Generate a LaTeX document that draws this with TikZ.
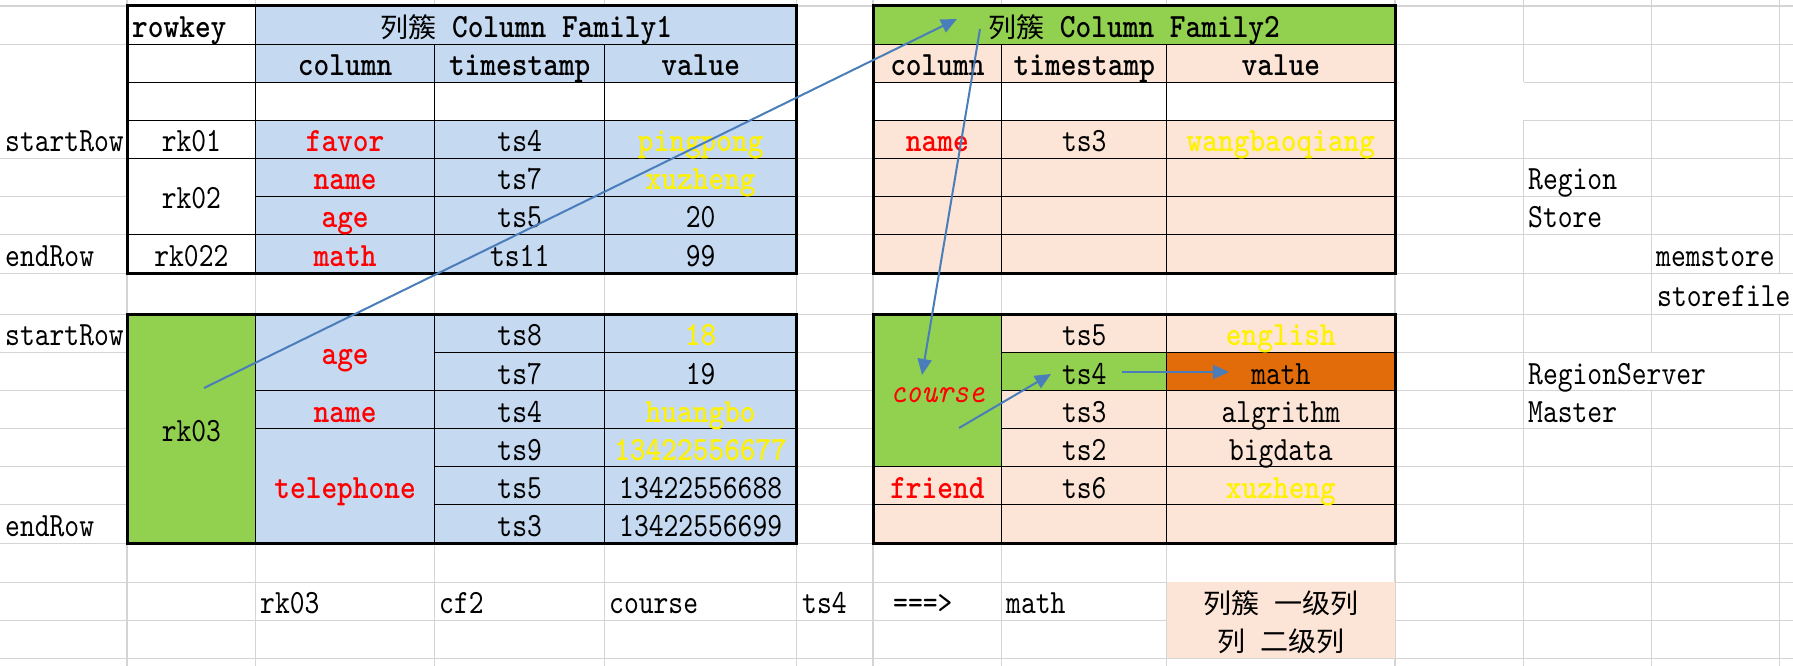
\documentclass[tikz,border=0pt]{standalone}
\usepackage{fontspec}
\setmainfont{lmmono10-regular.otf}[UprightFeatures={FakeStretch=0.83}, BoldFont=lmmonolt10-bold.otf, BoldFeatures={FakeStretch=0.88}, ItalicFont=lmmono10-italic.otf, ItalicFeatures={FakeStretch=0.88}]
\newfontfamily\cjkf{Noto Sans CJK SC}[FakeStretch=1.04]
\usetikzlibrary{arrows.meta}
\definecolor{lblue}{HTML}{C5D9F1}
\definecolor{lgreen}{HTML}{92D050}
\definecolor{peach}{HTML}{FCE4D6}
\definecolor{orng}{HTML}{E26B0A}
\definecolor{arrowblue}{HTML}{4A7EBB}
\definecolor{gridgray}{HTML}{D4D4D4}
\newcommand\mainsz{\fontsize{34}{34}\selectfont}
\newcommand\cjksz{\fontsize{27}{27}\selectfont}
\begin{document}
\begin{tikzpicture}[x=1pt,y=-1pt,
  txt/.style={inner sep=0pt, anchor=base, font=\mainsz},
  ltxt/.style={txt, anchor=base west},
  hd/.style={txt, font=\mainsz\bfseries},
  rd/.style={txt, font=\mainsz\bfseries, text=red},
  yl/.style={txt, font=\mainsz\bfseries, text=yellow},
  cjktxt/.style={txt, font=\cjkf\cjksz},
  gridline/.style={draw=gridgray, line width=1.2pt},
  thinline/.style={draw=black, line width=1.3pt},
  thickline/.style={draw=black, line width=3pt},
  arr/.style={draw=arrowblue, line width=2pt, -{Triangle[length=16pt,width=14pt]}}]
\useasboundingbox (0,0) rectangle (1793,666);
\fill[white] (0,0) rectangle (1793,666);
% ---------- sheet grid ----------
\foreach \yy in {6,44.3,158.3,196.3,234.5,273.5,314.2,352.5,390.5,428.5,466.4,504.5,543.7,582.3,620.3,658.3}
  \draw[gridline] (0,\yy) -- (1793,\yy);
\foreach \yy in {82.3,120.3}
  \draw[gridline] (1523.8,\yy) -- (1793,\yy);
\foreach \xx in {127,255.7,434.5,604.8,796.5,873,1001.8,1166.8,1395}
  \draw[gridline] (\xx,0) -- (\xx,666);
\draw[gridline] (1523.8,0) -- (1523.8,82.3) (1523.8,120.3) -- (1523.8,666);
\draw[gridline] (1651.5,0) -- (1651.5,352.5) (1651.5,390.5) -- (1651.5,666);
\draw[gridline] (1779.3,0) -- (1779.3,273.5) (1779.3,314.2) -- (1779.3,666);
\fill[peach] (1166.8,582.3) rectangle (1395,658.3);
% ---------- top table 1 ----------
\fill[white] (127,6) rectangle (796.5,273.5);
\fill[lblue] (255.7,6) rectangle (796.5,82.3);
\fill[lblue] (255.7,120.3) rectangle (796.5,273.5);
\draw[thinline] (127,44.3) -- (796.5,44.3) (127,82.3) -- (796.5,82.3) (127,120.3) -- (796.5,120.3)
  (127,158.3) -- (796.5,158.3) (255.7,196.3) -- (796.5,196.3) (127,234.5) -- (796.5,234.5)
  (255.7,6) -- (255.7,273.5) (434.5,44.3) -- (434.5,273.5) (604.8,44.3) -- (604.8,273.5);
\draw[thickline] (127,6) rectangle (796.5,273.5);
% ---------- top table 2 ----------
\fill[peach] (873,6) rectangle (1395,273.5);
\fill[lgreen] (873,6) rectangle (1395,44.3);
\fill[white] (873,82.3) rectangle (1395,120.3);
\draw[thinline] (873,44.3) -- (1395,44.3) (873,82.3) -- (1395,82.3) (873,120.3) -- (1395,120.3)
  (873,158.3) -- (1395,158.3) (873,196.3) -- (1395,196.3) (873,234.5) -- (1395,234.5)
  (1001.8,44.3) -- (1001.8,273.5) (1166.8,44.3) -- (1166.8,273.5);
\draw[thickline] (873,6) rectangle (1395,273.5);
% ---------- lower table 1 ----------
\fill[lblue] (127,314.2) rectangle (796.5,543.7);
\fill[lgreen] (127,314.2) rectangle (255.7,543.7);
\draw[thinline] (434.5,352.5) -- (796.5,352.5) (255.7,390.5) -- (796.5,390.5) (255.7,428.5) -- (796.5,428.5)
  (434.5,466.4) -- (796.5,466.4) (434.5,504.5) -- (796.5,504.5)
  (255.7,314.2) -- (255.7,543.7) (434.5,314.2) -- (434.5,543.7) (604.8,314.2) -- (604.8,543.7);
\draw[thickline] (127,314.2) rectangle (796.5,543.7);
% ---------- lower table 2 ----------
\fill[peach] (873,314.2) rectangle (1395,543.7);
\fill[lgreen] (873,314.2) rectangle (1001.8,466.4);
\fill[lgreen] (1001.8,352.5) rectangle (1166.8,390.5);
\fill[orng] (1166.8,352.5) rectangle (1395,390.5);
\draw[thinline] (1001.8,352.5) -- (1395,352.5) (1001.8,390.5) -- (1395,390.5) (1001.8,428.5) -- (1395,428.5)
  (873,466.4) -- (1395,466.4) (873,504.5) -- (1395,504.5)
  (1001.8,314.2) -- (1001.8,543.7) (1166.8,314.2) -- (1166.8,543.7);
\draw[thickline] (873,314.2) rectangle (1395,543.7);
% ---------- texts: top table 1 ----------
\node[ltxt, font=\mainsz\bfseries] (rowkey) at (132,37.7) {rowkey};
\node[hd] (cf1) at (526.1,37.7) {{\cjkf\mdseries\cjksz 列簇} Column Family1};
\node[hd] (c1col) at (345.1,75.8) {column};
\node[hd] (c1ts) at (519.7,75.8) {timestamp};
\node[hd] (c1val) at (700.7,75.8) {value};
\node[txt] (rk01) at (191.4,151.8) {rk01};
\node[rd] (favor) at (345.1,151.8) {favor};
\node[txt] (tsA4) at (519.7,151.8) {ts4};
\node[yl] (pingpong) at (700.7,151.8) {pingpong};
\node[txt] (rk02) at (191.4,208.9) {rk02};
\node[rd] (nameA) at (345.1,189.8) {name};
\node[txt] (tsA7) at (519.7,189.8) {ts7};
\node[yl] (xuzhengA) at (700.7,189.8) {xuzheng};
\node[rd] (ageA) at (345.1,227.9) {age};
\node[txt] (tsA5) at (519.7,227.9) {ts5};
\node[txt] (vA20) at (700.7,227.9) {20};
\node[txt] (rk022) at (191.4,266.5) {rk022};
\node[rd] (mathA) at (345.1,266.5) {math};
\node[txt] (tsA11) at (519.7,266.5) {ts11};
\node[txt] (vA99) at (700.7,266.5) {99};
% ---------- texts: top table 2 ----------
\node[hd] (cf2) at (1134,37.7) {{\cjkf\mdseries\cjksz 列簇} Column Family2};
\node[hd] (c2col) at (937.4,75.8) {column};
\node[hd] (c2ts) at (1084.3,75.8) {timestamp};
\node[hd] (c2val) at (1280.9,75.8) {value};
\node[rd] (nameB) at (937.4,151.8) {name};
\node[txt] (tsB3) at (1084.3,151.8) {ts3};
\node[yl] (wbq) at (1280.9,151.8) {wangbaoqiang};
% ---------- texts: lower table 1 ----------
\node[txt] (rk03) at (191.4,441.5) {rk03};
\node[rd] (ageC) at (345.1,364.9) {age};
\node[rd] (nameC) at (345.1,422) {name};
\node[rd] (tel) at (345.1,498.6) {telephone};
\node[txt] (tsC8) at (519.7,345.9) {ts8};
\node[txt] (tsC7) at (519.7,384) {ts7};
\node[txt] (tsC4) at (519.7,422) {ts4};
\node[txt] (tsC9) at (519.7,460) {ts9};
\node[txt] (tsC5) at (519.7,498) {ts5};
\node[txt] (tsC3) at (519.7,536.6) {ts3};
\node[yl] (vC18) at (700.7,345.9) {18};
\node[txt] (vC19) at (700.7,384) {19};
\node[yl] (huangbo) at (700.7,422) {huangbo};
\node[yl] (tel77) at (700.7,460) {13422556677};
\node[txt] (tel88) at (700.7,498) {13422556688};
\node[txt] (tel99) at (700.7,536.6) {13422556699};
% ---------- texts: lower table 2 ----------
\node[txt, font=\mainsz\itshape, text=red] (courseD) at (937.4,402.8) {course};
\node[rd] (friend) at (937.4,498) {friend};
\node[txt] (tsD5) at (1084.3,345.9) {ts5};
\node[txt] (tsD4) at (1084.3,384) {ts4};
\node[txt] (tsD3) at (1084.3,422) {ts3};
\node[txt] (tsD2) at (1084.3,460) {ts2};
\node[txt] (tsD6) at (1084.3,498) {ts6};
\node[yl] (english) at (1280.9,345.9) {english};
\node[txt] (mathD) at (1280.9,384) {math};
\node[txt] (algr) at (1280.9,422) {algrithm};
\node[txt] (bigdata) at (1280.9,460) {bigdata};
\node[yl] (xuzhengD) at (1280.9,498) {xuzheng};
% ---------- side labels ----------
\node[ltxt] (sr1) at (5,151.8) {startRow};
\node[ltxt] (er1) at (5,266.5) {endRow};
\node[ltxt] (sr2) at (5,345.9) {startRow};
\node[ltxt] (er2) at (5,536.6) {endRow};
\node[ltxt] (region) at (1528,189.8) {Region};
\node[ltxt] (store) at (1528,227.9) {Store};
\node[ltxt] (memstore) at (1656,266.5) {memstore};
\node[ltxt] (storefile) at (1657,306.4) {storefile};
\node[ltxt] (rserver) at (1528,384) {RegionServer};
\node[ltxt] (master) at (1528,422) {Master};
% ---------- bottom row ----------
\node[ltxt] (brk) at (260,613.8) {rk03};
\node[ltxt] (bcf) at (439,613.8) {cf2};
\node[ltxt] (bcourse) at (609,613.8) {course};
\node[ltxt] (bts) at (802,613.8) {ts4};
\node[ltxt] (barrow) at (893,613.8) {===>};
\node[ltxt] (bmath) at (1006,613.8) {math};
\node[cjktxt] (lvl1) at (1280.9,613.8) {列簇\hspace{15pt}一级列};
\node[cjktxt] (lvl2) at (1280.9,651.8) {列\hspace{15pt}二级列};
% ---------- arrows ----------
\coordinate (a1s) at (204,388);   \coordinate (a1e) at (957,19);
\coordinate (a2s) at (980,29);    \coordinate (a2e) at (922,375);
\coordinate (a3s) at (959,428);   \coordinate (a3e) at (1051,374);
\coordinate (a4s) at (1122,372);  \coordinate (a4e) at (1229,372);
\draw[arr] (a1s) -- (a1e);
\draw[arr] (a2s) -- (a2e);
\draw[arr] (a3s) -- (a3e);
\draw[arr] (a4s) -- (a4e);
\end{tikzpicture}
\end{document}
